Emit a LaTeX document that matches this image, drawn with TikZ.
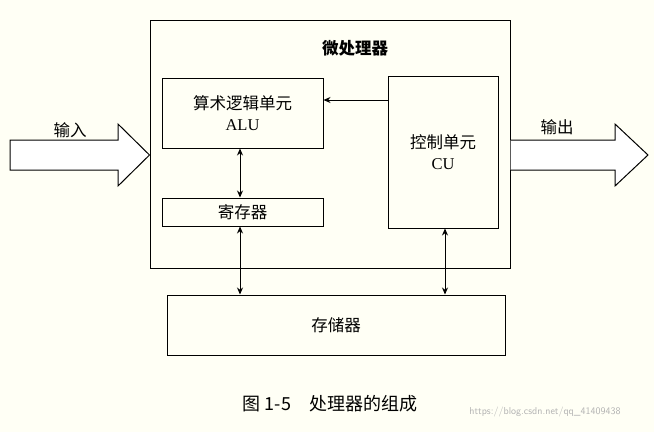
\documentclass[tikz,border=0pt]{standalone}
\usepackage{fontspec}
\setmainfont{Liberation Serif}
\newfontfamily\cjk{Noto Sans CJK SC}
\usetikzlibrary{arrows.meta}
\begin{document}
\begin{tikzpicture}[x=1pt,y=-1pt,
  box/.style={draw,line width=1pt,inner sep=0pt},
  lbl/.style={font=\fontsize{16.5}{19}\selectfont},
  dbl/.style={line width=0.9pt,{Stealth[length=7pt,width=6pt]}-{Stealth[length=7pt,width=6pt]}},
  hollow/.style={draw,line width=1pt,fill=white}]
\fill[green!3!yellow!4] (0,0) rectangle (654,432);
\useasboundingbox (0,0) rectangle (654,432);
\node[box,minimum width=360pt,minimum height=248pt] (mp) at (330,144) {};
\node[font=\cjk\bfseries\fontsize{16.5}{19}\selectfont] (mpt) at (355,48) {微处理器};
\node[box,minimum width=161pt,minimum height=70pt,align=center,lbl] (alu) at (242.5,113) {\cjk 算术逻辑单元\\[2pt]ALU};
\node[box,minimum width=161pt,minimum height=28pt,lbl] (reg) at (242.5,212) {\cjk 寄存器};
\node[box,minimum width=110pt,minimum height=152pt,align=center,lbl] (cu) at (443,152) {\cjk 控制单元\\[2pt]CU};
\node[box,minimum width=338pt,minimum height=60pt,lbl] (mem) at (336,325) {\cjk 存储器};
\draw[line width=0.9pt,-{Stealth[length=7pt,width=6pt]}] (cu.west |- 0,100) -- (alu.east |- 0,100);
\draw[dbl] (alu.south -| 240,0) -- (reg.north -| 240,0);
\draw[dbl] (reg.south -| 240,0) -- (mem.north -| 240,0);
\draw[dbl] (cu.south -| 445,0) -- (mem.north -| 445,0);
\coordinate (inTip) at (mp.west |- 0,155);
\coordinate (outBase) at (mp.east |- 0,155);
\draw[hollow] (10,140) -- (118,140) -- (118,124) -- (inTip) -- (118,186) -- (118,170) -- (10,170) -- cycle;
\draw[hollow] (outBase) ++(0,-15) -- (615,140) -- (615,124) -- (648,155) -- (615,186) -- (615,170) -- (outBase|-0,170);
\node[lbl] (in) at (70,130) {\cjk 输入};
\node[lbl] (out) at (557,127) {\cjk 输出};
\node[font=\fontsize{18}{20}\selectfont] (cap) at (330,404) {\cjk 图 1-5\quad 处理器的组成};
\node[font=\sffamily\fontsize{10}{12}\selectfont,text=gray!60] (wm) at (545,412) {https://blog.csdn.net/qq\_41409438};
\end{tikzpicture}
\end{document}
